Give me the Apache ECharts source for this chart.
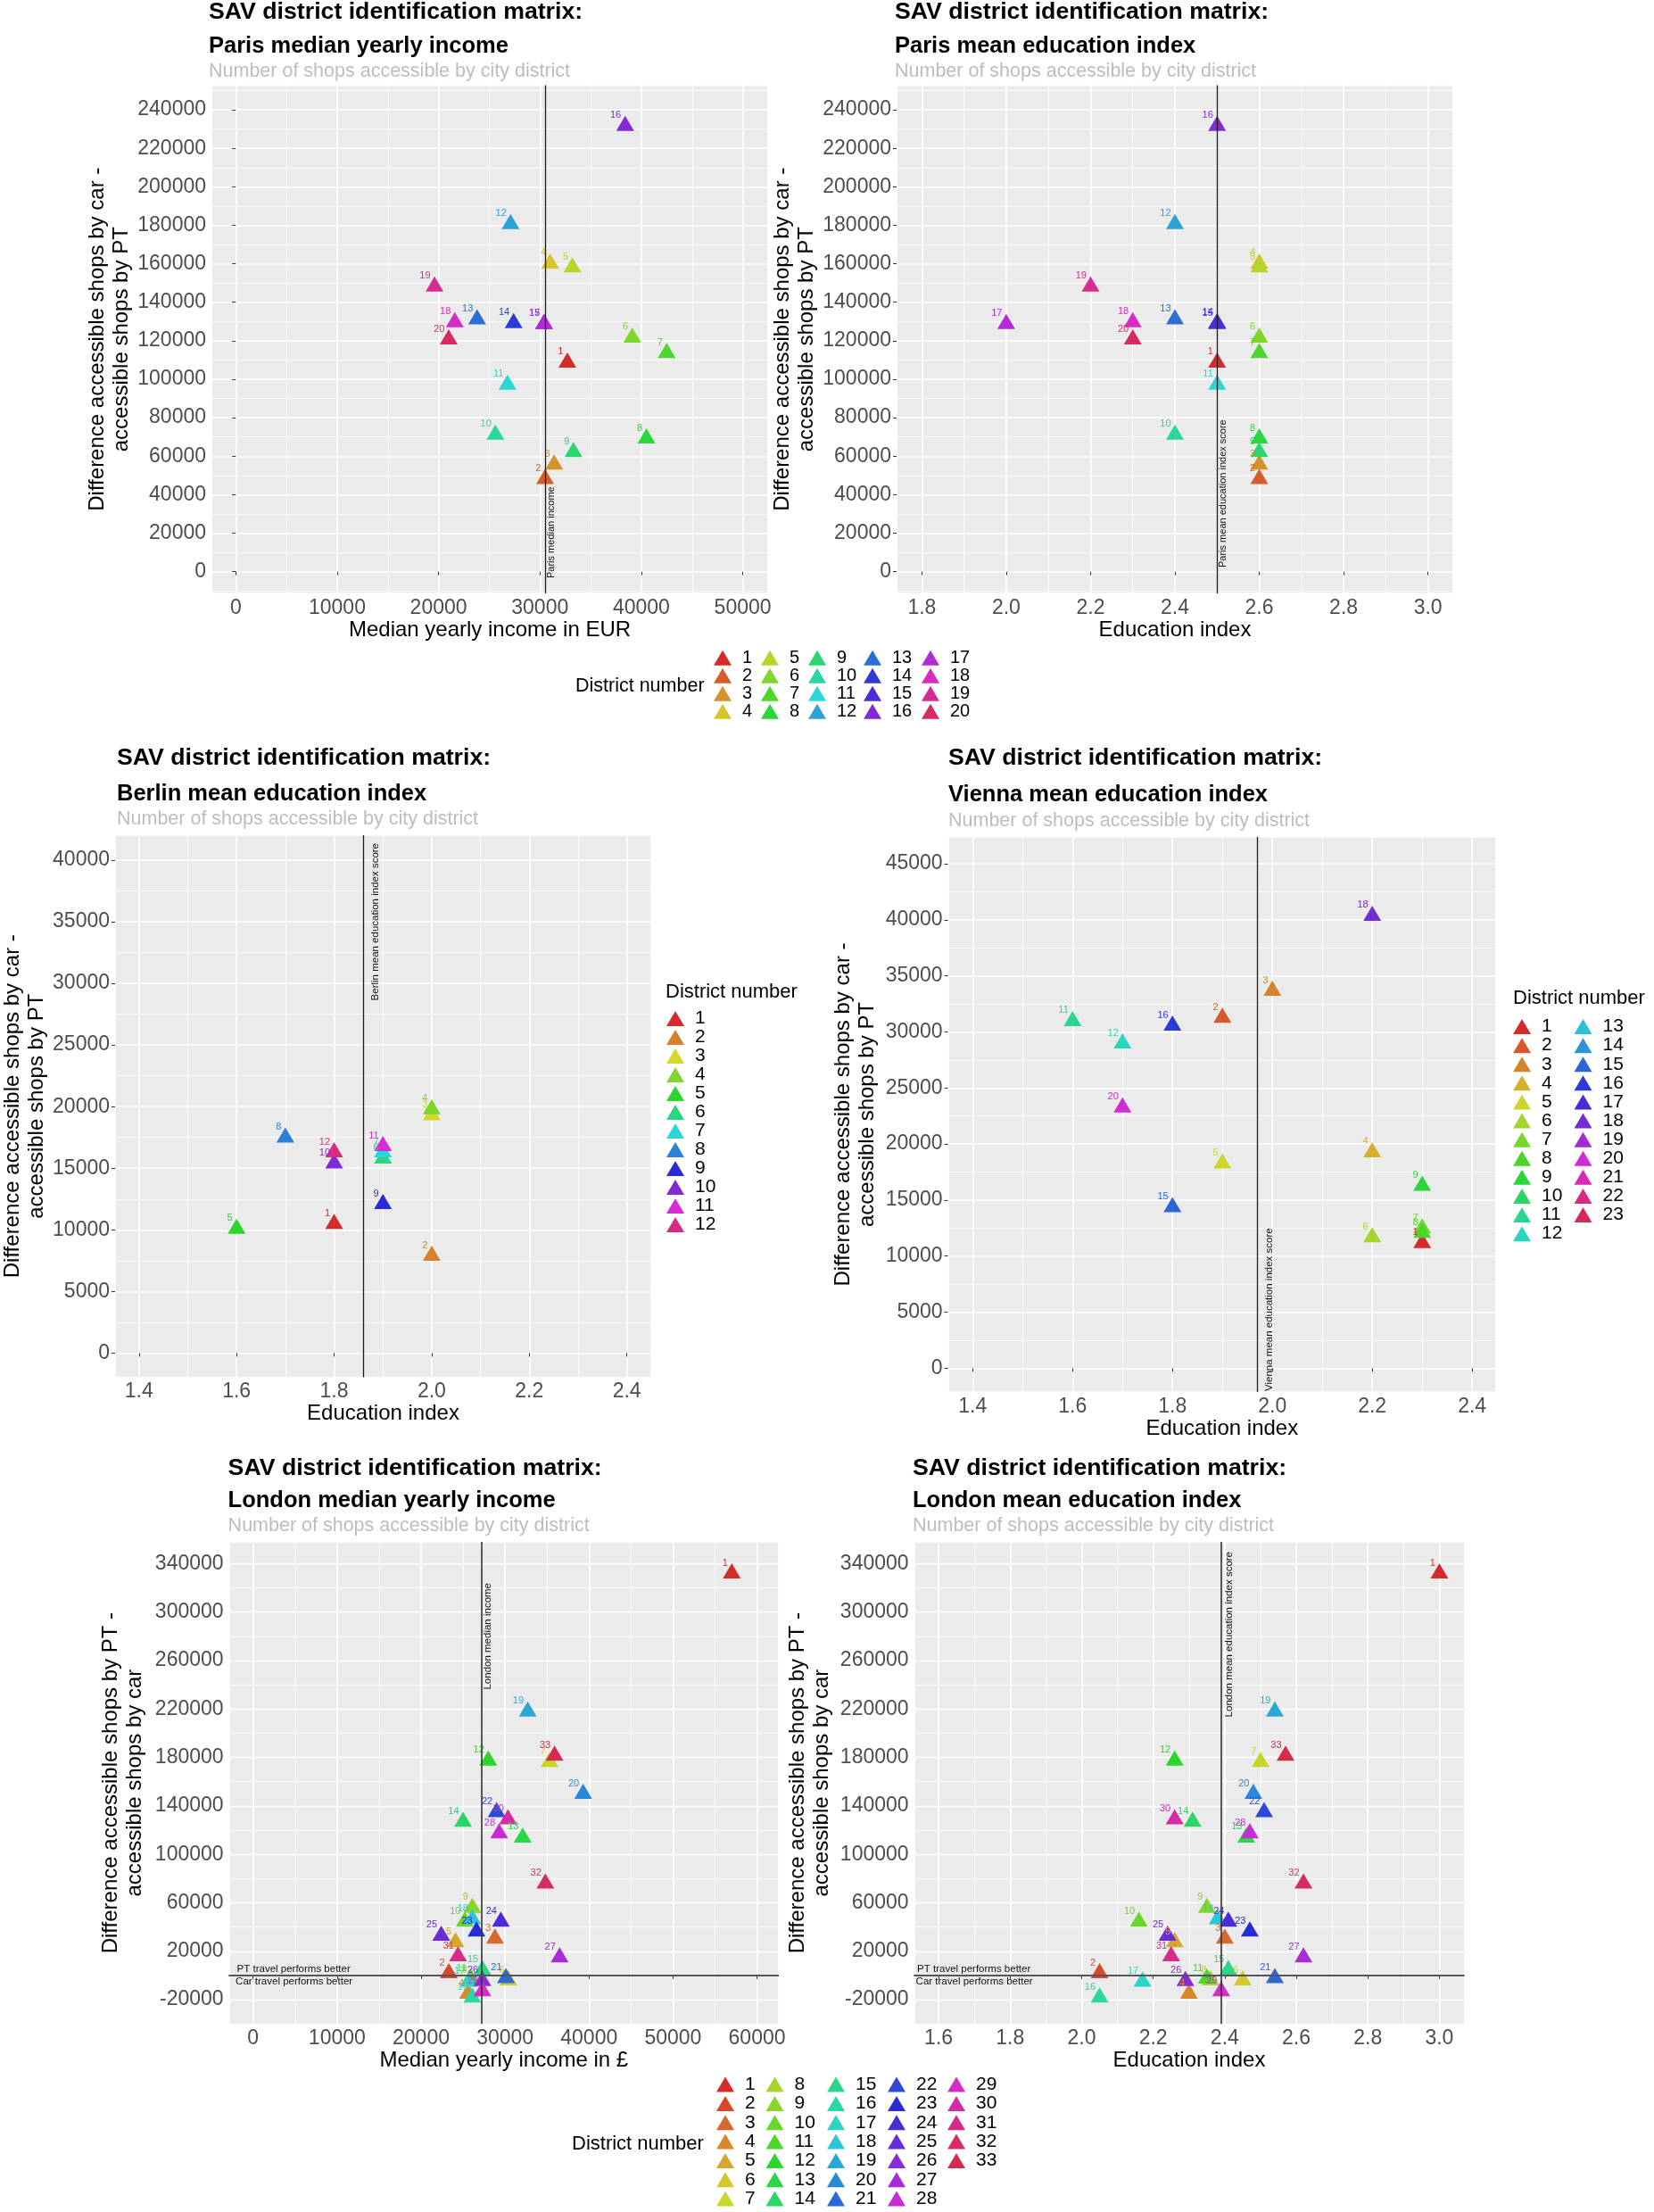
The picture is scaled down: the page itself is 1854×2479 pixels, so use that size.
<!DOCTYPE html>
<html><head><meta charset="utf-8">
<script src="https://cdn.jsdelivr.net/npm/echarts@6/dist/echarts.min.js"></script>
<style>html,body{margin:0;background:#fff}#c{width:1854px;height:2479px}</style>
</head><body><div id="c"></div>
<script>
// ---------------- DATA ----------------
// Paris, districts 1..20
const parisIncome    = [32700, 30500, 31400, 31000, 33200, 39100, 42500, 40500, 33300, 25600, 26800, 27100, 23800, 27400, 30400, 38400, 30400, 21600, 19600, 21000];
const parisEducation = [2.5, 2.6, 2.6, 2.6, 2.6, 2.6, 2.6, 2.6, 2.6, 2.4, 2.5, 2.4, 2.4, 2.5, 2.5, 2.5, 2.0, 2.3, 2.2, 2.3];
const parisShopDiff  = [110000, 49500, 57000, 161500, 159500, 123000, 115000, 70500, 63500, 72500, 98500, 182000, 132500, 130500, 130000, 233000, 130000, 131000, 149500, 122000];
const parisMedianIncome = 30500;
const parisMeanEducation = 2.5;

// Berlin, districts 1..12
const berlinEducation = [1.8, 2.0, 2.0, 2.0, 1.6, 1.9, 1.9, 1.7, 1.9, 1.8, 1.9, 1.8];
const berlinShopDiff  = [10700, 8100, 19500, 20000, 10300, 16000, 16500, 17700, 12300, 15600, 17000, 16500];
const berlinMeanEducation = 1.86;

// Vienna, districts 1..23 (null = no point drawn)
const viennaEducation = [2.3, 1.9, 2.0, 2.2, 1.9, 2.2, 2.3, 2.3, 2.3, null, 1.6, 1.7, null, null, 1.8, 1.8, null, 2.2, null, 1.7, null, null, null];
const viennaShopDiff  = [11400, 31500, 33900, 19500, 18500, 11900, 12700, 12300, 16500, null, 31200, 29200, null, null, 14600, 30800, null, 40600, null, 23500, null, null, null];
const viennaMeanEducation = 1.97;

// London, districts 1..33
const londonIncome    = [57000, 23300, 28800, 25600, 24100, 30400, 35300, 26000, 26100, 25200, 25900, 28000, 32100, 25000, 27300, 26100, 25700, 26100, 32700, 39300, 30100, 29000, 26600, 29500, 22400, 27300, 36500, 29300, 27300, 30350, 24400, 34800, 35900];
const londonEducation = [3.0, 2.05, 2.40, 2.30, 2.26, 2.45, 2.50, 2.36, 2.35, 2.16, 2.35, 2.26, 2.46, 2.31, 2.41, 2.05, 2.17, 2.38, 2.54, 2.48, 2.54, 2.51, 2.47, 2.41, 2.24, 2.29, 2.62, 2.47, 2.39, 2.26, 2.25, 2.62, 2.57];
const londonShopDiff  = [334000, 4000, 32500, -13000, 29500, -2000, 178500, -2000, 58000, 46500, -500, 179500, 116000, 129000, 6500, -16000, -3000, 48500, 220000, 152000, 0, 137000, 38500, 46500, 35000, -2500, 17000, 119500, -11000, 131000, 18000, 78000, 183500];
const londonMedianIncome = 27200;
const londonMeanEducation = 2.39;

// Texts
const mainTitle = 'SAV district identification matrix:';
const subTitleGray = 'Number of shops accessible by city district';
const yTitleCarPT = 'Difference accessible shops by car -\naccessible shops by PT';
const yTitlePTCar = 'Difference accessible shops by PT -\naccessible shops by car';

// ---------------- STYLE HELPERS ----------------
const FONT = '"Liberation Sans", Arial, Helvetica, sans-serif';
function hsv(h, s, v) {
  const c = v * s, hp = h / 60, x = c * (1 - Math.abs(hp % 2 - 1)), m = v - c;
  let r = 0, g = 0, b = 0;
  if (hp < 1) { r = c; g = x; } else if (hp < 2) { r = x; g = c; } else if (hp < 3) { g = c; b = x; }
  else if (hp < 4) { g = x; b = c; } else if (hp < 5) { r = x; b = c; } else { r = c; b = x; }
  return 'rgb(' + Math.round((r + m) * 255) + ',' + Math.round((g + m) * 255) + ',' + Math.round((b + m) * 255) + ')';
}
function palette(n) { const a = []; for (let i = 0; i < n; i++) a.push(hsv(i * 360 / n, 0.80, 0.84)); return a; }

function fmt(step, dec, offset) {
  return function (v) {
    const k = (v - (offset || 0)) / step;
    return Math.abs(k - Math.round(k)) < 1e-6 ? v.toFixed(dec) : '';
  };
}
const MAJOR = { color: '#ffffff', width: 1.6 };
const MINOR = { color: '#ffffff', width: 0.8 };

function xAxis(gi, min, max, sn, step, dec, name) {
  return {
    type: 'value', gridIndex: gi, min, max, splitNumber: sn,
    name, nameLocation: 'middle', nameGap: 28,
    nameTextStyle: { fontSize: 24, color: '#000', fontFamily: FONT },
    axisLine: { show: false },
    axisTick: { show: true, length: 4, lineStyle: { color: '#333', width: 1 } },
    axisLabel: { show: true, margin: 5, fontSize: 23, color: '#4D4D4D', fontFamily: FONT, formatter: fmt(step, dec), showMinLabel: false, showMaxLabel: false },
    splitLine: { show: true, lineStyle: MAJOR },
    minorTick: { show: false, splitNumber: 2 },
    minorSplitLine: { show: true, lineStyle: MINOR }
  };
}
function yAxis(gi, min, max, sn, step, name, gap) {
  return {
    type: 'value', gridIndex: gi, min, max, splitNumber: sn,
    name, nameLocation: 'middle', nameGap: gap,
    nameTextStyle: { fontSize: 24, lineHeight: 27, color: '#000', fontFamily: FONT },
    axisLine: { show: false },
    axisTick: { show: true, length: 4, lineStyle: { color: '#333', width: 1 } },
    axisLabel: { show: true, margin: 6, fontSize: 23, color: '#4D4D4D', fontFamily: FONT, formatter: fmt(step, 0), showMinLabel: false, showMaxLabel: false },
    splitLine: { show: true, lineStyle: MAJOR },
    minorTick: { show: false, splitNumber: 2 },
    minorSplitLine: { show: true, lineStyle: MINOR }
  };
}
function yAxisLondon(gi, name, gap) {
  return {
    type: 'value', gridIndex: gi, min: -40000, max: 358000, interval: 20000,
    name, nameLocation: 'middle', nameGap: gap,
    nameTextStyle: { fontSize: 24, lineHeight: 27, color: '#000', fontFamily: FONT },
    axisLine: { show: false },
    axisTick: { show: false },
    axisLabel: { show: true, margin: 6, fontSize: 23, color: '#4D4D4D', fontFamily: FONT, formatter: fmt(40000, 0, -20000), showMinLabel: false, showMaxLabel: false },
    splitLine: { show: true, lineStyle: { width: 1.4, color: ['rgba(255,255,255,0.75)', '#ffffff'] } }
  };
}

function districtSeries(prefix, xs, ys, xi, yi) {
  const cols = palette(xs.length);
  return xs.map((x, i) => ({
    type: 'scatter', name: prefix + '-' + (i + 1), xAxisIndex: xi, yAxisIndex: yi,
    symbol: 'triangle', symbolSize: [20, 17],
    itemStyle: { color: cols[i], opacity: 1 },
    label: { show: true, formatter: String(i + 1), position: 'inside', align: 'right', verticalAlign: 'middle',
             offset: [-4.5, -9], fontSize: 11, color: cols[i], fontFamily: FONT },
    emphasis: { disabled: true }, animation: false, z: 3,
    data: (x == null || ys[i] == null) ? [] : [[x, ys[i]]]
  }));
}
function vline(xi, yi, value, text, pos, dist, fs, color, width) {
  return {
    type: 'scatter', xAxisIndex: xi, yAxisIndex: yi, data: [], silent: true, z: 6, animation: false,
    markLine: {
      symbol: 'none', silent: true, animation: false,
      lineStyle: { color, width, type: 'solid' },
      label: { show: true, position: pos, formatter: text, distance: dist, fontSize: fs, color: '#111', fontFamily: FONT },
      emphasis: { disabled: true },
      data: [{ xAxis: value }]
    }
  };
}
function hline(xi, yi, dist1, dist2) {
  return {
    type: 'scatter', xAxisIndex: xi, yAxisIndex: yi, data: [], silent: true, z: 6, animation: false,
    markLine: {
      symbol: 'none', silent: true, animation: false,
      lineStyle: { color: '#555', width: 2.2, type: 'solid' },
      emphasis: { disabled: true },
      data: [
        { yAxis: 0, label: { show: true, position: 'insideStartTop', formatter: 'PT travel performs better', distance: dist1, fontSize: 11.5, color: '#111', fontFamily: FONT } },
        { yAxis: 0, label: { show: true, position: 'insideStartBottom', formatter: 'Car travel performs better', distance: dist2, fontSize: 11.5, color: '#111', fontFamily: FONT } }
      ]
    }
  };
}
function titles(left, c1, c2, c3, sub) {
  return [
    { text: mainTitle, left, top: c1 - 13, padding: 0, textStyle: { fontSize: 26.7, lineHeight: 26, fontWeight: 'bold', color: '#000', fontFamily: FONT } },
    { text: sub, left, top: c2 - 12.5, padding: 0, textStyle: { fontSize: 25.5, lineHeight: 25, fontWeight: 'bold', color: '#000', fontFamily: FONT } },
    { text: subTitleGray, left, top: c3 - 11, padding: 0, textStyle: { fontSize: 21.5, lineHeight: 22, fontWeight: 'normal', color: '#BDBDBD', fontFamily: FONT } }
  ];
}
function legendTitle(left, center, fs) {
  return { text: 'District number', left, top: center - fs / 2, padding: 0, textStyle: { fontSize: fs, lineHeight: fs, fontWeight: 'normal', color: '#000', fontFamily: FONT } };
}
function legendCols(prefix, groups, lefts, top, fs, lh) {
  return groups.map((g, c) => ({
    data: g.map(i => prefix + '-' + i), orient: 'vertical', left: lefts[c], top, height: 300, padding: 0, itemGap: 0,
    itemWidth: 20, itemHeight: 17, icon: 'triangle', selectedMode: false,
    formatter: n => n.split('-')[1],
    textStyle: { fontSize: fs, lineHeight: lh, color: '#000', fontFamily: FONT, padding: [0, 0, 0, 7] }
  }));
}
function range(a, b) { const r = []; for (let i = a; i <= b; i++) r.push(i); return r; }

// ---------------- OPTION ----------------
const gridStyle = { show: true, backgroundColor: '#EBEBEB', borderWidth: 0, containLabel: false };
const option = {
  animation: false,
  backgroundColor: '#ffffff',
  textStyle: { fontFamily: FONT },
  title: [].concat(
    titles(234, 14, 52, 80, 'Paris median yearly income'),
    titles(1003, 14, 52, 80, 'Paris mean education index'),
    titles(131, 850, 890, 918.5, 'Berlin mean education index'),
    titles(1063, 850, 891, 920.5, 'Vienna mean education index'),
    titles(255.6, 1646, 1682, 1710.5, 'London median yearly income'),
    titles(1023, 1646, 1682, 1710.5, 'London mean education index'),
    [legendTitle(645, 769, 21.5), legendTitle(746, 1112, 22), legendTitle(1696, 1118.5, 22), legendTitle(641, 2402.5, 22)]
  ),
  grid: [
    Object.assign({ left: 237, top: 95.5, width: 624, height: 569.5 }, gridStyle),
    Object.assign({ left: 1005, top: 95.5, width: 624, height: 569.5 }, gridStyle),
    Object.assign({ left: 129, top: 936, width: 601, height: 607.5 }, gridStyle),
    Object.assign({ left: 1062.6, top: 938, width: 614.4, height: 622 }, gridStyle),
    Object.assign({ left: 256.6, top: 1728, width: 616.4, height: 540.2 }, gridStyle),
    Object.assign({ left: 1024.6, top: 1728, width: 616.8, height: 540.2 }, gridStyle)
  ],
  xAxis: [
    xAxis(0, -2400, 52500, 5, 10000, 0, 'Median yearly income in EUR'),
    xAxis(1, 1.740, 3.060, 7, 0.2, 1, 'Education index'),
    xAxis(2, 1.351, 2.450, 5, 0.2, 1, 'Education index'),
    xAxis(3, 1.3505, 2.448, 5, 0.2, 1, 'Education index'),
    xAxis(4, -2880, 62600, 6, 10000, 0, 'Median yearly income in £'),
    xAxis(5, 1.5314, 3.0698, 7, 0.2, 1, 'Education index')
  ],
  yAxis: [
    yAxis(0, -11300, 252800, 13, 20000, yTitleCarPT, 83.5),
    yAxis(1, -11300, 252800, 13, 20000, yTitleCarPT, 84.5),
    yAxis(2, -1960, 42020, 9, 5000, yTitleCarPT, 73.5),
    yAxis(3, -2126, 47400, 10, 5000, yTitleCarPT, 77),
    yAxisLondon(4, yTitlePTCar, 92),
    yAxisLondon(5, yTitlePTCar, 90)
  ],
  legend: [].concat(
    legendCols('P', [range(1, 4), range(5, 8), range(9, 12), range(13, 16), range(17, 20)], [800, 853, 906, 968, 1033], 727.3, 20, 20),
    legendCols('B', [range(1, 12)], [747], 1131, 21, 20.7),
    legendCols('V', [range(1, 12), range(13, 23)], [1696, 1764.5], 1140, 21, 21.1),
    legendCols('L', [range(1, 7), range(8, 14), range(15, 21), range(22, 28), range(29, 33)], [803, 858.5, 927, 995, 1062], 2325.4, 21, 21.33)
  ),
  series: [].concat(
    districtSeries('P', parisIncome, parisShopDiff, 0, 0),
    districtSeries('P', parisEducation, parisShopDiff, 1, 1),
    districtSeries('B', berlinEducation, berlinShopDiff, 2, 2),
    districtSeries('V', viennaEducation, viennaShopDiff, 3, 3),
    districtSeries('L', londonIncome, londonShopDiff, 4, 4),
    districtSeries('L', londonEducation, londonShopDiff, 5, 5),
    [
      vline(0, 0, parisMedianIncome, 'Paris median income', 'insideStartBottom', [17, 1.5], 11, '#1a1a1a', 1.3),
      vline(1, 1, parisMeanEducation, 'Paris mean education index score', 'insideStartBottom', [29, 1.5], 11, '#1a1a1a', 1.3),
      vline(2, 2, berlinMeanEducation, 'Berlin mean education index score', 'insideEndBottom', [9, 7], 11.5, '#1a1a1a', 1.3),
      vline(3, 3, viennaMeanEducation, 'Vienna mean education index score', 'insideStartBottom', [1, 7], 11.5, '#1a1a1a', 1.3),
      vline(4, 4, londonMedianIncome, 'London median income', 'insideEndBottom', [46, 1.5], 11.5, '#333', 1.6),
      vline(5, 5, londonMeanEducation, 'London mean education index score', 'insideEndBottom', [11, 3], 11.5, '#333', 1.6),
      hline(4, 4, [9, 1], [7.5, 1]),
      hline(5, 5, [3.5, 1], [2, 1])
    ]
  )
};
const chart = echarts.init(document.getElementById('c'), null, { renderer: 'canvas', width: 1854, height: 2479 });
chart.setOption(option);
</script>
</body></html>
